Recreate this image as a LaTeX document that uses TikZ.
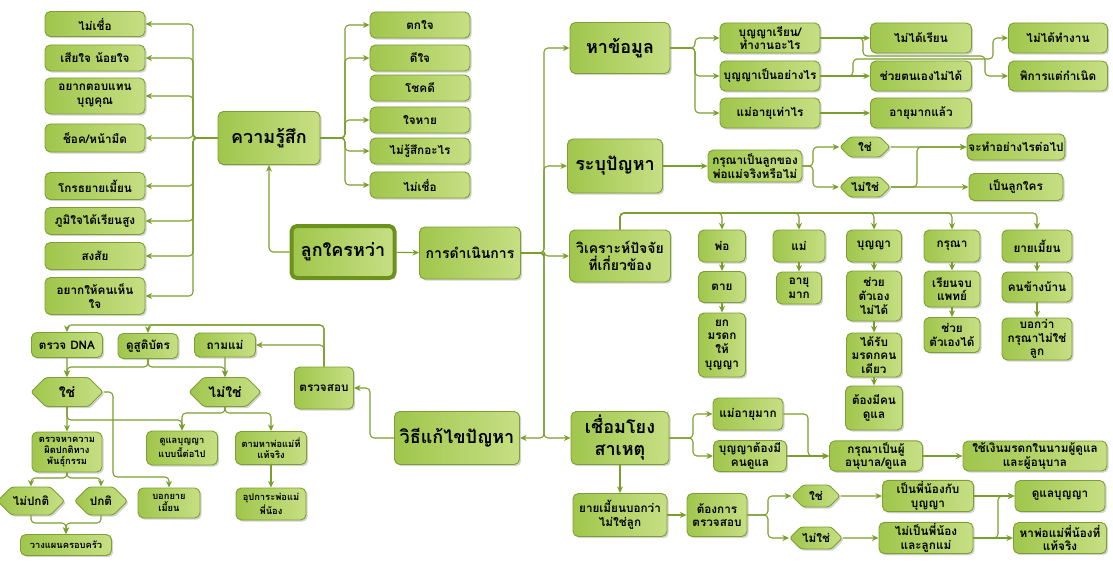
\documentclass[tikz,border=0pt]{standalone}
\usepackage{fontspec}
\newfontfamily\thaifont[Script=Thai]{Loma}
\usetikzlibrary{arrows.meta,shapes.symbols,shadows}
\definecolor{lineclr}{HTML}{7A9E2C}
\definecolor{boxline}{HTML}{7E9F34}
\definecolor{rootline}{HTML}{6B931C}
\definecolor{boxleft}{HTML}{A0C64C}
\definecolor{boxright}{HTML}{C6DF84}
\newcommand\ftiny{\thaifont\bfseries\fontsize{7}{8.5}\selectfont}
\newcommand\fsmall{\thaifont\bfseries\fontsize{8.8}{10.2}\selectfont}
\newcommand\fmid{\thaifont\bfseries\fontsize{10.5}{13}\selectfont}
\newcommand\fbig{\thaifont\bfseries\fontsize{13.5}{16.5}\selectfont}
\begin{document}
\begin{tikzpicture}[x=0.75pt,y=-0.75pt,>={Stealth[length=5pt,width=4.5pt]},line join=round,
	box/.style={draw=boxline,line width=0.7pt,rounded corners=4pt,left color=boxleft,right color=boxright,
		align=center,inner sep=1pt,font=\fsmall,drop shadow={shadow xshift=1.3pt,shadow yshift=-1.3pt,opacity=0.35}},
	sz/.style 2 args={minimum width=#1*0.75pt,minimum height=#2*0.75pt},
	bigbox/.style={box,font=\fbig},
	midbox/.style={box,font=\fmid},
	tinybox/.style={box,font=\ftiny},
	rootbox/.style={box,draw=rootline,line width=3pt,font=\fbig},
	hexbox/.style={box,shape=signal,signal to=east and west,signal pointer angle=90,rounded corners=2pt},
	conn/.style={draw=lineclr,line width=0.8pt,rounded corners=3pt},
	arr/.style={conn,->}]
	\useasboundingbox (0,0) rectangle (1113,563);
	% centre
	\node[rootbox,sz={103}{52}] (root) at (343,252) {ลูกใครหว่า};
	\node[midbox,sz={101}{52}] (act) at (470,253) {การดำเนินการ};
	\node[bigbox,sz={102}{53}] (feel) at (269,138) {ความรู้สึก};
	% feelings
	\node[box,sz={100}{25}] (fl1) at (95,24) {ไม่เชื่อ};
	\node[box,sz={100}{26}] (fl2) at (95,58) {เสียใจ น้อยใจ};
	\node[box,sz={100}{36}] (fl3) at (95,96) {อยากตอบแทน\\บุญคุณ};
	\node[box,sz={100}{28}] (fl4) at (95,138) {ช็อค/หน้ามืด};
	\node[box,sz={100}{27}] (fl5) at (95,186) {โกรธยายเมี้ยน};
	\node[box,sz={100}{27}] (fl6) at (95,221) {ภูมิใจได้เรียนสูง};
	\node[box,sz={100}{27}] (fl7) at (95,256) {สงสัย};
	\node[box,sz={100}{37}] (fl8) at (95,296) {อยากให้คนเห็น\\ใจ};
	\node[box,sz={100}{26}] (fr1) at (420,25) {ตกใจ};
	\node[box,sz={100}{26}] (fr2) at (420,58) {ดีใจ};
	\node[box,sz={100}{26}] (fr3) at (420,88) {โชคดี};
	\node[box,sz={100}{26}] (fr4) at (420,120) {ใจหาย};
	\node[box,sz={100}{26}] (fr5) at (420,151) {ไม่รู้สึกอะไร};
	\node[box,sz={100}{26}] (fr6) at (420,185) {ไม่เชื่อ};
	% find information
	\node[bigbox,sz={100}{51}] (info) at (620,48) {หาข้อมูล};
	\node[box,sz={100}{30}] (i1) at (770,38) {บุญญาเรียน/\\ทำงานอะไร};
	\node[box,sz={100}{30}] (i2) at (770,76) {บุญญาเป็นอย่างไร};
	\node[box,sz={100}{30}] (i3) at (770,113) {แม่อายุเท่าไร};
	\node[box,sz={101}{30}] (i1a) at (921,38) {ไม่ได้เรียน};
	\node[box,sz={101}{30}] (i2a) at (921,76) {ช่วยตนเองไม่ได้};
	\node[box,sz={101}{30}] (i3a) at (921,113) {อายุมากแล้ว};
	\node[box,sz={99}{30}] (i1b) at (1058,38) {ไม่ได้ทำงาน};
	\node[box,sz={99}{30}] (i2b) at (1058,76) {พิการแต่กำเนิด};
	% state the problem
	\node[bigbox,sz={95}{54}] (prob) at (615,166) {ระบุปัญหา};
	\node[box,sz={94}{32}] (p1) at (755,166) {กรุณาเป็นลูกของ\\พ่อแม่จริงหรือไม่};
	\node[hexbox,sz={50}{20}] (pyes) at (865,147) {ใช่};
	\node[hexbox,sz={50}{20}] (pno) at (865,187) {ไม่ใช่};
	\node[box,sz={94}{26}] (pa) at (1016,147) {จะทำอย่างไรต่อไป};
	\node[box,sz={94}{27}] (pb) at (1016,187) {เป็นลูกใคร};
	% analysis
	\node[midbox,sz={101}{52}] (anal) at (620,256) {วิเคราะห์ปัจจัย\\ที่เกี่ยวข้อง};
	\node[box,sz={47}{32}] (a1) at (722,246) {พ่อ};
	\node[box,sz={47}{31}] (a1a) at (722,287) {ตาย};
	\node[box,sz={47}{64}] (a1b) at (722,345) {ยก\\มรดก\\ให้\\บุญญา};
	\node[box,sz={52}{32}] (a2) at (799,246) {แม่};
	\node[box,sz={45}{32}] (a2a) at (799,288) {อายุ\\มาก};
	\node[box,sz={55}{32}] (a3) at (874,246) {บุญญา};
	\node[box,sz={55}{50}] (a3a) at (874,296) {ช่วย\\ตัวเอง\\ไม่ได้};
	\node[box,sz={55}{44}] (a3b) at (874,355) {ได้รับ\\มรดกคน\\เดียว};
	\node[box,sz={57}{44}] (a3c) at (874,408) {ต้องมีคน\\ดูแล};
	\node[box,sz={56}{32}] (a4) at (952,246) {กรุณา};
	\node[box,sz={56}{36}] (a4a) at (952,289) {เรียนจบ\\แพทย์};
	\node[box,sz={56}{35}] (a4b) at (952,335) {ช่วย\\ตัวเองได้};
	\node[box,sz={70}{32}] (a5) at (1037,246) {ยายเมี้ยน};
	\node[box,sz={70}{30}] (a5a) at (1037,287) {คนข้างบ้าน};
	\node[box,sz={70}{42}] (a5b) at (1037,339) {บอกว่า\\กรุณาไม่ใช่\\ลูก};
	% link the causes
	\node[bigbox,sz={98}{53}] (link) at (620,438) {เชื่อมโยง\\สาเหตุ};
	\node[box,sz={70}{32}] (l1) at (748,414) {แม่อายุมาก};
	\node[box,sz={73}{31}] (l2) at (750,456) {บุญญาต้องมี\\คนดูแล};
	\node[box,sz={93}{30}] (l3) at (876,456) {กรุณาเป็นผู้\\อนุบาล/ดูแล};
	\node[box,sz={144}{30}] (l4) at (1035,456) {ใช้เงินมรดกในนามผู้ดูแล\\และผู้อนุบาล};
	\node[box,sz={94}{43}] (m1) at (620,515) {ยายเมี้ยนบอกว่า\\ไม่ใช่ลูก};
	\node[box,sz={60}{43}] (m2) at (717,515) {ต้องการ\\ตรวจสอบ};
	\node[hexbox,sz={48}{22}] (myes) at (816,496) {ใช่};
	\node[hexbox,sz={48}{22}] (mno) at (816,538) {ไม่ใช่};
	\node[box,sz={91}{31}] (m3) at (928,496) {เป็นพี่น้องกับ\\บุญญา};
	\node[box,sz={94}{31}] (m4) at (926,538) {ไม่เป็นพี่น้อง\\และลูกแม่};
	\node[box,sz={90}{31}] (m5) at (1060,496) {ดูแลบุญญา};
	\node[box,sz={93}{31}] (m6) at (1060,538) {หาพ่อแม่พี่น้องที่\\แท้จริง};
	% solving
	\node[bigbox,sz={125}{53}] (solve) at (457,438) {วิธีแก้ไขปัญหา};
	\node[box,sz={59}{42}] (check) at (324,388) {ตรวจสอบ};
	\node[box,sz={71}{25}] (s1) at (67,345) {ตรวจ DNA};
	\node[box,sz={60}{25}] (s2) at (148,346) {ดูสูติบัตร};
	\node[box,sz={61}{24}] (s3) at (225,345) {ถามแม่};
	\node[hexbox,font=\fmid,sz={72}{29}] (syes) at (67,392) {ใช่};
	\node[hexbox,font=\fmid,sz={72}{29}] (sno) at (225,392) {ไม่ใช่};
	\node[tinybox,sz={70}{40}] (s4) at (67,452) {ตรวจหาความ\\ผิดปกติทาง\\พันธุ์กรรม};
	\node[tinybox,sz={71}{34}] (s5) at (182,448) {ดูแลบุญญา\\แบบนี้ต่อไป};
	\node[tinybox,sz={71}{33}] (s6) at (271,448) {ตามหาพ่อแม่ที่\\แท้จริง};
	\node[tinybox,sz={70}{32}] (s7) at (271,504) {อุปการะพ่อแม่\\พี่น้อง};
	\node[tinybox,sz={62}{30}] (s8) at (169,503) {บอกยาย\\เมี้ยน};
	\node[hexbox,sz={48}{28}] (s9) at (31,501) {ไม่ปกติ};
	\node[hexbox,sz={47}{28}] (s10) at (101,501) {ปกติ};
	\node[tinybox,sz={91}{21}] (s11) at (66,545) {วางแผนครอบครัว};
	% connectors
	\coordinate (lbus) at (193,138);
	\coordinate (rbus) at (345,138);
	\coordinate (trunk) at (544,253);
	\coordinate (ibus) at (695,48);
	\coordinate (pbus) at (813,166);
	\coordinate (abus) at (620,213);
	\coordinate (lkbus) at (693,438);
	\coordinate (mbus) at (768,515);
	\coordinate (cbus) at (324,325);
	\coordinate (sbus) at (148,367);
	\coordinate (ybus) at (67,420);
	\coordinate (nbus) at (225,413);
	\coordinate (gbus) at (67,478);
	\coordinate (fbus) at (66,523);
	\draw[arr] (root) -- (act);
	\draw[arr] (root.west) -| (feel.south);
	\foreach \n in {fl1,fl2,fl3,fl4,fl5,fl6,fl7,fl8}
		\draw[arr] (feel.west) -- (lbus) |- (\n.east);
	\foreach \n in {fr1,fr2,fr4,fr5,fr6}
		\draw[arr] (feel.east) -- (rbus) |- (\n.west);
	\draw[arr] (act.east) -- (trunk) |- (info.west);
	\draw[arr] (act.east) -- (trunk) |- (prob.west);
	\draw[arr] (act.east) -- (trunk) |- (anal.west);
	\draw[arr] (act.east) -- (trunk) |- (link.west);
	\draw[arr] (act.east) -- (trunk) |- (solve.east);
	\foreach \n in {i1,i2,i3}
		\draw[arr] (info.east) -- (ibus) |- (\n.west);
	\draw[arr] (i1) -- (i1a);
	\draw[arr] (i2) -- (i2a);
	\draw[arr] (i3) -- (i3a);
	\draw[arr] (i1.east) -- (863,38) |- (985,56) |- (i2b.west);
	\draw[arr] (i2.east) -- (853,76) |- (993,59) |- (i1b.west);
	\draw[arr] (prob) -- (p1);
	\draw[arr] (p1.east) -- (pbus) |- (pyes.west);
	\draw[arr] (p1.east) -- (pbus) |- (pno.west);
	\draw[arr] (pyes) -- (pa);
	\draw[arr] (pno) -- (pb);
	\draw[arr] (pno.east) -- (917,187) |- (pa.west);
	\foreach \n in {a1,a2,a3,a4,a5}
		\draw[arr] (anal.north) |- (\n.north |- abus) -- (\n.north);
	\draw[arr] (a1) -- (a1a);
	\draw[arr] (a1a) -- (a1b);
	\draw[arr] (a2) -- (a2a);
	\draw[arr] (a3) -- (a3a);
	\draw[arr] (a3a) -- (a3b);
	\draw[arr] (a3b) -- (a3c);
	\draw[arr] (a4) -- (a4a);
	\draw[arr] (a4a) -- (a4b);
	\draw[arr] (a5) -- (a5a);
	\draw[arr] (a5a) -- (a5b);
	\draw[arr] (link.east) -- (lkbus) |- (l1.west);
	\draw[arr] (link.east) -- (lkbus) |- (l2.west);
	\draw[arr] (l1.east) -- (808,414) |- (l3.west);
	\draw[arr] (l2) -- (l3);
	\draw[arr] (l3) -- (l4);
	\draw[arr] (link) -- (m1);
	\draw[arr] (m1) -- (m2);
	\draw[arr] (m2.east) -- (mbus) |- (myes.west);
	\draw[arr] (m2.east) -- (mbus) |- (mno.west);
	\draw[arr] (myes) -- (m3);
	\draw[arr] (mno) -- (m4);
	\draw[arr] (m3) -- (m5);
	\draw[arr] (m4) -- (m6);
	\draw[arr] (m4.east) -- (998,538) |- (m5.west);
	\draw[arr] (solve.west) -- (370,438) |- (check.east);
	\draw[arr] (check.north) |- (s1.north |- cbus) -- (s1.north);
	\draw[arr] (check.north) |- (s2.north |- cbus) -- (s2.north);
	\draw[arr] (check.north) |- (s3.east);
	\draw[arr] (s1) -- (syes);
	\draw[arr] (s2.south) -- (sbus) -| (syes.north);
	\draw[arr] (s2.south) -- (sbus) -| (sno.north);
	\draw[arr] (s3) -- (sno);
	\draw[arr] (syes) -- (s4);
	\draw[arr] (syes.south) -- (ybus) -| (s5.north);
	\draw[arr] (sno.south) -- (nbus) -| (s5.north);
	\draw[arr] (sno.south) -- (nbus) -| (s6.north);
	\draw[arr] (syes.east) -| (113,477) -| (s8.north);
	\draw[arr] (s6) -- (s7);
	\draw[arr] (s4.south) -- (gbus) -| (s9.north);
	\draw[arr] (s4.south) -- (gbus) -| (s10.north);
	\draw[arr] (s9.south) |- (fbus) -- (s11.north);
	\draw[arr] (s10.south) |- (fbus) -- (s11.north);
\end{tikzpicture}
\end{document}
